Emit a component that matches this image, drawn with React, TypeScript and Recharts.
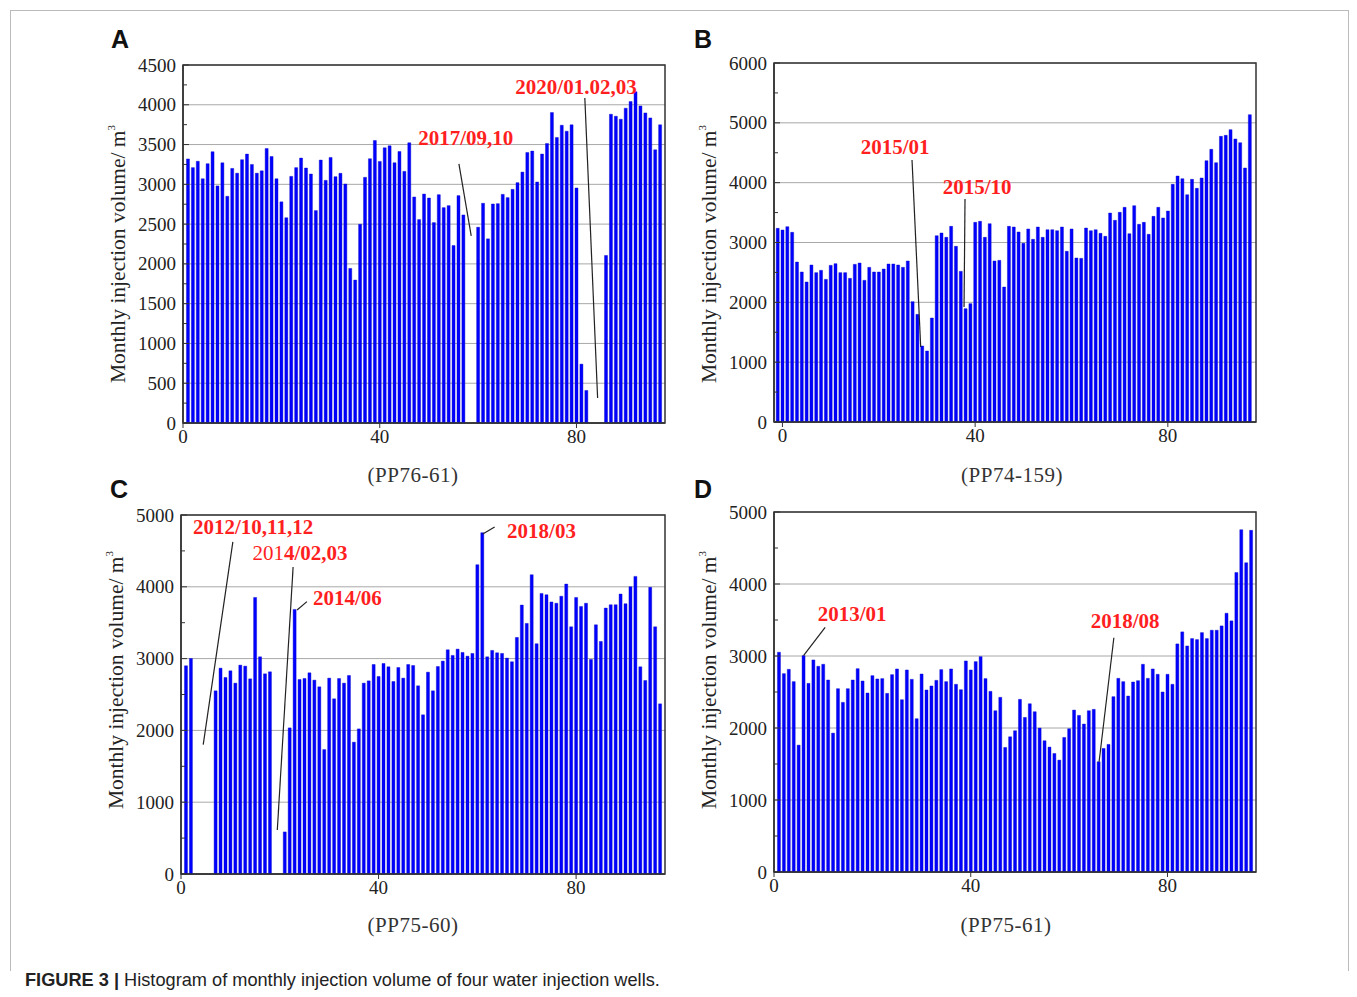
import React from 'react';
import { BarChart, Bar, XAxis, YAxis, CartesianGrid, ReferenceArea, ReferenceLine, ReferenceDot } from 'recharts';

const SERIF = "'Liberation Serif', 'Times New Roman', serif";
const SANS = "'Liberation Sans', Arial, sans-serif";

// Monthly injection volume (m3) per well; null = no injection that month
const volA: (number | null)[] = [
  3320, 3210, 3290, 3070, 3260, 3410, 2980, 3270, 2850, 3200, 3140, 3310, 3380, 3250, 3140, 3170, 3450, 3350, 3070, 2780,
  2580, 3100, 3210, 3330, 3205, 3130, 2670, 3305, 3050, 3338, 3096, 3138, 3004, 1943, 1797, 2498, 3088, 3322, 3551, 3288,
  3459, 3484, 3271, 3413, 3163, 3522, 2841, 2557, 2878, 2828, 2519, 2870, 2707, 2732, 2231, 2858, 2615, null, null, 2461,
  2762, 2315, 2753, 2757, 2874, 2833, 2937, 3021, 3154, 3401, 3418, 3029, 3380, 3514, 3902, 3589, 3743, 3668, 3748, 2954,
  740, 409, null, null, null, 2106, 3881, 3856, 3819, 3957, 4040, 4165, 3986, 3898, 3835, 3434, 3748,
];
const volB: (number | null)[] = [
  3237, 3209, 3265, 3170, 2674, 2507, 2340, 2624, 2496, 2535, 2384, 2618, 2646, 2496, 2496, 2401, 2635, 2657, 2368, 2585,
  2507, 2507, 2557, 2641, 2641, 2624, 2585, 2691, 2011, 1799, 1270, 1187, 1738, 3114, 3159, 3086, 3270, 2936, 2518, 1894,
  1978, 3337, 3354, 3086, 3315, 2691, 2702, 2256, 3270, 3259, 3176, 2986, 3226, 3053, 3259, 3086, 3214, 3214, 3198, 3259,
  2852, 3226, 2741, 2735, 3242, 3198, 3214, 3153, 3103, 3493, 3370, 3504, 3588, 3148, 3616, 3304, 3337, 3137, 3437, 3588,
  3410, 3526, 3972, 4111, 4067, 3799, 4056, 3905, 4078, 4368, 4557, 4334, 4774, 4791, 4886, 4730, 4668, 4245, 5137,
];
const volC: (number | null)[] = [
  2900, 3002, null, null, null, null, 2551, 2867, 2737, 2830, 2658, 2909, 2895, 2718, 3852, 3025, 2788, 2816, null, null,
  586, 2035, 3685, 2709, 2723, 2802, 2700, 2607, 1733, 2728, 2440, 2723, 2658, 2765, 1836, 2021, 2658, 2690, 2918, 2751,
  2932, 2886, 2681, 2876, 2728, 2918, 2904, 2621, 2217, 2811, 2551, 2890, 2965, 3123, 3044, 3132, 3086, 3034, 3072, 4308,
  4754, 3025, 3114, 3081, 3072, 3007, 2956, 3295, 3745, 3490, 4168, 3207, 3908, 3889, 3789, 3771, 3869, 4038, 3443, 3852,
  3727, 3771, 2988, 3471, 3239, 3703, 3750, 3750, 3899, 3764, 4001, 4145, 2886, 2695, 3992, 3443, 2370,
];
const volD: (number | null)[] = [
  3052, 2755, 2815, 2644, 1762, 3005, 2620, 2945, 2857, 2885, 2667, 1929, 2546, 2356, 2546, 2667, 2824, 2653, 2486, 2727,
  2681, 2686, 2481, 2741, 2820, 2393, 2806, 2676, 2129, 2750, 2528, 2584, 2662, 2811, 2644, 2820, 2607, 2532, 2931, 2806,
  2922, 2991, 2686, 2509, 2240, 2426, 1730, 1878, 1962, 2398, 2147, 2337, 2226, 1999, 1823, 1735, 1646, 1554, 1869, 1990,
  2249, 2175, 2055, 2240, 2259, 1531, 1716, 1772, 2435, 2690, 2644, 2444, 2639, 2657, 2885, 2690, 2820, 2746, 2500, 2746,
  2607, 3168, 3335, 3140, 3242, 3228, 3325, 3242, 3358, 3358, 3418, 3594, 3488, 4160, 4754, 4295, 4745,
];

// first month index on the x axis for each well
const startA = 1;
const startB = -1;
const startC = 1;
const startD = 1;

const xTicks = [0, 40, 80];
// major (labelled) y ticks
const yTicksA = [0, 500, 1000, 1500, 2000, 2500, 3000, 3500, 4000, 4500];
const yTicksB = [0, 1000, 2000, 3000, 4000, 5000, 6000];
const yTicksCD = [0, 1000, 2000, 3000, 4000, 5000];
// minor (unlabelled) y ticks
const yMinorA = [250, 750, 1250, 1750, 2250, 2750, 3250, 3750, 4250];
const yMinorB = [500, 1500, 2500, 3500, 4500, 5500];
const yMinorCD = [500, 1500, 2500, 3500, 4500];

const wellA = '(PP76-61)';
const wellB = '(PP74-159)';
const wellC = '(PP75-60)';
const wellD = '(PP75-61)';

// annotation: optional light-weight prefix + bold part
type Note = { light?: string; text: string; tx: number; ty: number; line: [number, number, number, number] };

const notesA: Note[] = [
  { text: '2017/09,10', tx: 57.5, ty: 3582, line: [56.1, 3256, 58.6, 2351] },
  { text: '2020/01.02,03', tx: 79.9, ty: 4224, line: [81.7, 4085, 84.3, 314] },
];
const notesB: Note[] = [
  { text: '2015/01', tx: 23.4, ty: 4596, line: [26.9, 4378, 28.7, 1253] },
  { text: '2015/10', tx: 40.4, ty: 3927, line: [37.9, 3726, 37.7, 1922] },
];
const notesC: Note[] = [
  { text: '2012/10,11,12', tx: 14.6, ty: 4834, line: [10.5, 4625, 4.5, 1801] },
  { light: '201', text: '4/02,03', tx: 24.1, ty: 4472, line: [22.7, 4277, 19.5, 613] },
  { text: '2014/06', tx: 33.7, ty: 3845, line: [23.5, 3677, 25.5, 3793] },
  { text: '2018/03', tx: 73.0, ty: 4778, line: [61.1, 4736, 63.5, 4834] },
];
const notesD: Note[] = [
  { text: '2013/01', tx: 15.9, ty: 3583, line: [10.4, 3399, 6.0, 3004] },
  { text: '2018/08', tx: 71.4, ty: 3486, line: [69.1, 3254, 66.1, 1532] },
];

const toData = (vals: (number | null)[], start: number) => vals.map((v, i) => ({ m: start + i, v }));

type PanelProps = {
  plotLeft: number; plotTop: number; plotW: number; plotH: number;
  vals: (number | null)[]; start: number; xDomain: [number, number];
  yTicks: number[]; yMinor: number[]; notes: Note[]; labelCY: number;
};

const Y_AXIS_W = 100;
const M_TOP = 10;
const M_RIGHT = 10;
const X_AXIS_H = 30;
const NOTE_FS = 21;
const RED = '#ff1f1f';

function NoteText({ cx, cy, n }: { cx: number; cy: number; n: Note }) {
  if (!n.light) {
    return (
      <text x={cx} y={cy} textAnchor="middle" dominantBaseline="central" fontFamily={SERIF} fontSize={NOTE_FS} fontWeight="bold" fill={RED}>
        {n.text}
      </text>
    );
  }
  // split text: light prefix then bold remainder, centred as a whole
  const lightW = n.light.length * 0.5 * NOTE_FS;
  const boldW = 3.03 * NOTE_FS;
  const startX = cx - (lightW + boldW) / 2;
  return (
    <g>
      <text x={startX + lightW} y={cy} textAnchor="end" dominantBaseline="central" fontFamily={SERIF} fontSize={NOTE_FS} fontWeight="normal" fill={RED}>
        {n.light}
      </text>
      <text x={startX + lightW} y={cy} textAnchor="start" dominantBaseline="central" fontFamily={SERIF} fontSize={NOTE_FS} fontWeight="bold" fill={RED}>
        {n.text}
      </text>
    </g>
  );
}

function Panel({ plotLeft, plotTop, plotW, plotH, vals, start, xDomain, yTicks, yMinor, notes, labelCY }: PanelProps) {
  const width = Y_AXIS_W + plotW + M_RIGHT;
  const height = M_TOP + plotH + X_AXIS_H;
  const yMax = yTicks[yTicks.length - 1];
  const data = toData(vals, start);
  const lx = Y_AXIS_W - 65;
  const ly = labelCY - plotTop + M_TOP;
  const allY = [...yTicks, ...yMinor].sort((a, b) => a - b);
  const renderYTick = (p: any) => {
    const val = p.payload?.value;
    const major = yTicks.includes(val);
    return (
      <g>
        <line x1={Y_AXIS_W} x2={Y_AXIS_W + (major ? 6 : 4)} y1={p.y} y2={p.y} stroke="#333" strokeWidth={1} />
        {major && (
          <text x={Y_AXIS_W - 7} y={p.y} textAnchor="end" dominantBaseline="central" fontFamily={SERIF} fontSize={19} fill="#222">
            {val}
          </text>
        )}
      </g>
    );
  };
  return (
    <div style={{ position: 'absolute', left: plotLeft - Y_AXIS_W, top: plotTop - M_TOP }}>
      <BarChart width={width} height={height} data={data} barSize={3} margin={{ top: M_TOP, right: M_RIGHT, left: 0, bottom: 0 }}>
        <CartesianGrid vertical={false} horizontalValues={yTicks} stroke="#a8a8a8" strokeWidth={1} />
        <XAxis
          type="number" dataKey="m" domain={xDomain} ticks={xTicks} allowDataOverflow
          height={X_AXIS_H} tickSize={5} axisLine={{ stroke: '#333', strokeWidth: 1.5 }} tickLine={{ stroke: '#333' }}
          tick={{ fontFamily: SERIF, fontSize: 19, fill: '#222' }}
        />
        <YAxis
          type="number" domain={[0, yMax]} ticks={allY} width={Y_AXIS_W} interval={0}
          tickSize={4} axisLine={{ stroke: '#333', strokeWidth: 1.5 }} tickLine={false}
          tick={renderYTick}
          label={{
            position: 'left',
            content: () => (
              <text
                x={lx} y={ly} transform={`rotate(-90, ${lx}, ${ly})`}
                textAnchor="middle" dominantBaseline="central"
                fontFamily={SERIF} fontSize={21.5} fill="#222"
              >
                Monthly injection volume/ m<tspan fontSize={11} dy={-7}>3</tspan>
              </text>
            ),
          }}
        />
        <Bar dataKey="v" fill="#0000ff" stroke="#0000c8" strokeWidth={0.4} isAnimationActive={false} />
        <ReferenceArea
          x1={xDomain[0]} x2={xDomain[1]} y1={0} y2={yMax}
          fill="none" stroke="#333" strokeWidth={1.5} fillOpacity={0} ifOverflow="visible"
        />
        {notes.map((n, i) => (
          <ReferenceLine
            key={`l${i}`}
            segment={[{ x: n.line[0], y: n.line[1] }, { x: n.line[2], y: n.line[3] }]}
            stroke="#222" strokeWidth={1.2} ifOverflow="visible"
          />
        ))}
        {notes.map((n, i) => (
          <ReferenceDot
            key={`t${i}`} x={n.tx} y={n.ty} r={1} fill="none" stroke="none" ifOverflow="visible"
            label={{
              position: 'center',
              content: (p: any) => {
                const vb = p.viewBox || {};
                const cx = (vb.x ?? 0) + (vb.width ?? 0) / 2;
                const cy = (vb.y ?? 0) + (vb.height ?? 0) / 2;
                return <NoteText cx={cx} cy={cy} n={n} />;
              },
            }}
          />
        ))}
      </BarChart>
    </div>
  );
}

const letterStyle: React.CSSProperties = {
  position: 'absolute', fontFamily: SANS, fontWeight: 'bold', fontSize: 25, lineHeight: '25px', color: '#111',
};
const subStyle: React.CSSProperties = {
  position: 'absolute', fontFamily: SERIF, fontSize: 21, lineHeight: '22px', color: '#333',
  transform: 'translate(-50%, -50%)', whiteSpace: 'nowrap', letterSpacing: 0.5,
};

export default function App() {
  return (
    <div style={{ position: 'absolute', left: 0, top: 0, width: 1357, height: 997, background: '#fff', overflow: 'hidden' }}>
      <div style={{ position: 'absolute', left: 10, top: 10, width: 1337, height: 960, borderLeft: '1px solid #bbb', borderTop: '1px solid #bbb', borderRight: '1px solid #bbb' }} />

      <Panel plotLeft={183} plotTop={65} plotW={482} plotH={358} vals={volA} start={startA} xDomain={[0, 98]} yTicks={yTicksA} yMinor={yMinorA} notes={notesA} labelCY={254} />
      <Panel plotLeft={774} plotTop={63} plotW={482} plotH={359} vals={volB} start={startB} xDomain={[-1.75, 98.3]} yTicks={yTicksB} yMinor={yMinorB} notes={notesB} labelCY={254} />
      <Panel plotLeft={181} plotTop={515} plotW={484} plotH={359} vals={volC} start={startC} xDomain={[0, 98]} yTicks={yTicksCD} yMinor={yMinorCD} notes={notesC} labelCY={680} />
      <Panel plotLeft={774} plotTop={512} plotW={482} plotH={360} vals={volD} start={startD} xDomain={[0, 98]} yTicks={yTicksCD} yMinor={yMinorCD} notes={notesD} labelCY={680} />

      <div style={{ ...letterStyle, left: 111, top: 27 }}>A</div>
      <div style={{ ...letterStyle, left: 694, top: 27 }}>B</div>
      <div style={{ ...letterStyle, left: 110, top: 477 }}>C</div>
      <div style={{ ...letterStyle, left: 694, top: 477 }}>D</div>

      <div style={{ ...subStyle, left: 413, top: 475 }}>{wellA}</div>
      <div style={{ ...subStyle, left: 1012, top: 475 }}>{wellB}</div>
      <div style={{ ...subStyle, left: 413, top: 925 }}>{wellC}</div>
      <div style={{ ...subStyle, left: 1006, top: 925 }}>{wellD}</div>

      <div style={{ position: 'absolute', left: 25, top: 970, fontFamily: SANS, fontSize: 18.2, lineHeight: '20px', color: '#222', whiteSpace: 'nowrap' }}>
        <b>FIGURE 3 |</b> Histogram of monthly injection volume of four water injection wells.
      </div>
    </div>
  );
}
